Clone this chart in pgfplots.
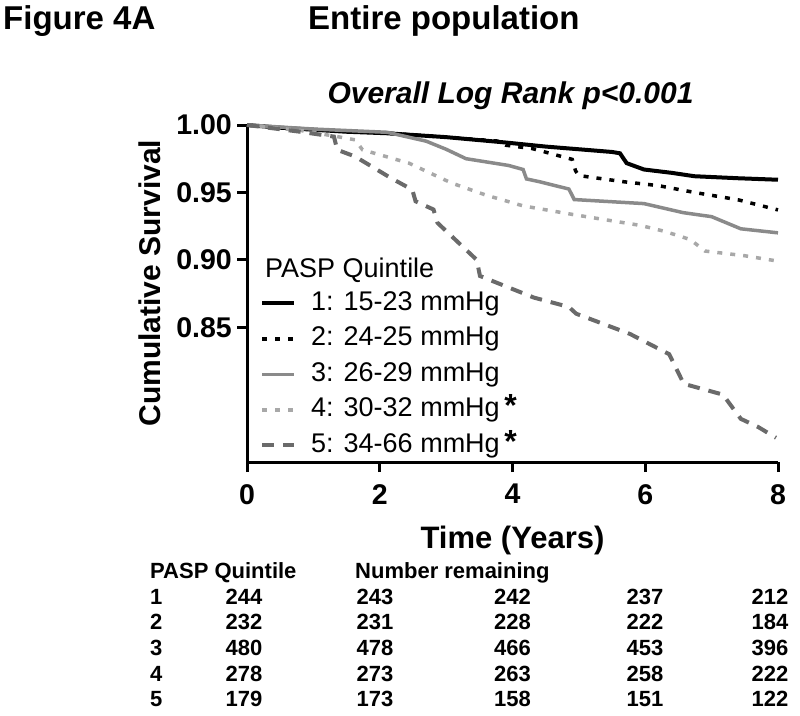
\documentclass[border=0pt]{standalone}
\usepackage{fontspec}
\setmainfont{Liberation Sans}
\usepackage{pgfplots}
\pgfplotsset{compat=1.18}
\usepackage{pgfplotstable}
\definecolor{gThree}{HTML}{8A8A8A}
\definecolor{gFour}{HTML}{A8A8A8}
\definecolor{gFive}{HTML}{6A6A6A}

\pgfplotstableread{
t s
0 1.000
0.5 0.998
1.0 0.9965
1.5 0.995
2.1 0.9939
3.0 0.991
3.9 0.987
4.5 0.984
5.0 0.982
5.5 0.980
5.62 0.979
5.66 0.976
5.72 0.9717
5.98 0.967
6.4 0.9645
6.74 0.962
7.4 0.9605
8.0 0.9594
}\sone

\pgfplotstableread{
t s
0 1.000
1.0 0.9965
2.1 0.994
3.0 0.991
3.8 0.988
3.9 0.985
4.3 0.9825
4.9 0.9745
4.95 0.966
5.0 0.9625
5.66 0.958
6.2 0.955
6.74 0.950
7.4 0.9445
8.0 0.937
}\stwo

\pgfplotstableread{
t s
0 1.000
1.0 0.997
2.11 0.9946
2.7 0.988
3.0 0.982
3.3 0.975
3.94 0.970
4.16 0.967
4.21 0.960
4.4 0.958
4.85 0.9525
4.93 0.9447
5.98 0.9417
6.57 0.935
7.0 0.932
7.44 0.923
8.0 0.920
}\sthree

\pgfplotstableread{
t s
0 1.000
0.8 0.996
1.36 0.9914
1.63 0.989
1.74 0.9816
2.44 0.9717
3.08 0.957
3.6 0.948
4.16 0.940
4.91 0.9336
5.93 0.9255
6.3 0.921
6.68 0.915
6.9 0.9065
7.5 0.903
8.0 0.899
}\sfour

\pgfplotstableread{
t s
0 1.000
0.8 0.995
1.31 0.9914
1.36 0.9816
1.63 0.9766
2.17 0.9606
2.49 0.952
2.54 0.9434
2.81 0.9373
2.87 0.9274
3.46 0.900
3.51 0.888
4.32 0.872
4.85 0.865
4.96 0.860
5.77 0.845
6.36 0.830
6.58 0.808
7.17 0.800
7.44 0.782
7.7 0.776
7.97 0.768
}\sfive

\newcommand{\tabfont}{\bfseries\fontsize{22bp}{25bp}\selectfont}
\newcommand{\sigstar}{\,{\bfseries\fontsize{32bp}{32bp}\selectfont *}}

\begin{document}
\begin{tikzpicture}
\path[use as bounding box] (0,0) rectangle (800bp,-716bp);
\node[anchor=base west, inner sep=0pt, font=\bfseries\fontsize{33bp}{36bp}\selectfont] at (3bp,-29bp) {Figure 4A};
\node[anchor=base west, inner sep=0pt, font=\bfseries\fontsize{33bp}{36bp}\selectfont] at (308bp,-29bp) {Entire population};
\node[anchor=base, inner sep=0pt, font=\bfseries\itshape\fontsize{30bp}{34bp}\selectfont] at (510.5bp,-103bp) {Overall Log Rank p<0.001};

\begin{axis}[
  at={(247bp,-462bp)}, anchor=south west,
  scale only axis, width=531bp, height=337bp,
  xmin=0, xmax=8, ymin=0.75, ymax=1,
  clip=false,
  axis x line*=bottom, axis y line*=left,
  x axis line style={-, line width=3bp},
  y axis line style={-, line width=3bp},
  xtick={0,2,4,6,8}, ytick={0.85,0.9,0.95,1},
  yticklabels={0.85,0.90,0.95,1.00},
  tick align=outside, major tick length=10bp,
  every tick/.style={black, line width=3bp},
  /pgf/number format/assume math mode=true,
  tick label style={font=\bfseries\fontsize{28.5bp}{32bp}\selectfont, inner sep=0pt},
  xticklabel style={yshift=-12bp},
  yticklabel style={xshift=-5bp},
  xlabel={Time (Years)},
  ylabel={Cumulative Survival},
  every axis x label/.style={at={(axis description cs:0.5,-0.258)}, anchor=base, inner sep=0pt, font=\bfseries\fontsize{31bp}{34bp}\selectfont},
  every axis y label/.style={at={(axis description cs:-0.1638,0.531)}, rotate=90, anchor=base, inner sep=0pt, font=\bfseries\fontsize{30bp}{34bp}\selectfont},
  legend style={at={(axis description cs:0.0245,0.51)}, anchor=north west, draw=none, fill=none, inner sep=0pt, row sep=9.5bp,
    font=\fontsize{27bp}{31bp}\selectfont,
    nodes={inner sep=0pt, text height=20bp, text depth=6bp},
    /tikz/every odd column/.append style={column sep=15bp}},
  legend cell align=left,
  legend image code/.code={\draw[#1] (0bp,0bp) -- (32bp,0bp);},
]
\addplot[black, line width=4bp] table[x=t,y=s] {\sone};
\addlegendentry{1: 15-23 mmHg}
\addplot[black, line width=3.5bp, dash pattern=on 5bp off 8bp] table[x=t,y=s] {\stwo};
\addlegendentry{2: 24-25 mmHg}
\addplot[gThree, line width=3.5bp] table[x=t,y=s] {\sthree};
\addlegendentry{3: 26-29 mmHg}
\addplot[gFour, line width=3.5bp, dash pattern=on 5bp off 8bp] table[x=t,y=s] {\sfour};
\addlegendentry{4: 30-32 mmHg\sigstar}
\addplot[gFive, line width=4bp, dash pattern=on 12bp off 9bp] table[x=t,y=s] {\sfive};
\addlegendentry{5: 34-66 mmHg\sigstar}
\end{axis}

\node[anchor=base west, inner sep=0pt, font=\fontsize{27bp}{31bp}\selectfont] at (265bp,-277bp) {PASP Quintile};

% number-at-risk table
\node[anchor=base west, inner sep=0pt, font=\tabfont] at (150bp,-578bp) {PASP Quintile};
\node[anchor=base west, inner sep=0pt, font=\tabfont] at (355bp,-578bp) {Number remaining};
\foreach \r/\yy/\a/\b/\c/\d/\e in {1/604/244/243/242/237/212, 2/629.5/232/231/228/222/184, 3/655/480/478/466/453/396, 4/681/278/273/263/258/222, 5/706.5/179/173/158/151/122}{
  \node[anchor=base west, inner sep=0pt, font=\tabfont] at (150bp,-\yy bp) {\r};
  \node[anchor=base, inner sep=0pt, font=\tabfont] at (244bp,-\yy bp) {\a};
  \node[anchor=base, inner sep=0pt, font=\tabfont] at (375bp,-\yy bp) {\b};
  \node[anchor=base, inner sep=0pt, font=\tabfont] at (512.5bp,-\yy bp) {\c};
  \node[anchor=base, inner sep=0pt, font=\tabfont] at (645bp,-\yy bp) {\d};
  \node[anchor=base, inner sep=0pt, font=\tabfont] at (770bp,-\yy bp) {\e};
}
\end{tikzpicture}
\end{document}
